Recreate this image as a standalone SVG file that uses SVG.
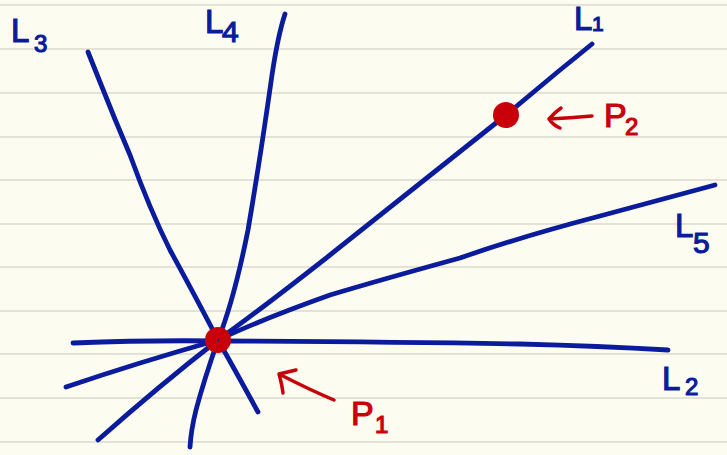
<svg xmlns="http://www.w3.org/2000/svg" width="727" height="455" viewBox="0 0 727 455">
<style>
.rule{stroke:#E4E2D6;stroke-width:2}
.ln{fill:none;stroke:#0A1C9C;stroke-width:4.8;stroke-linecap:round;stroke-linejoin:round}
.ar{fill:none;stroke:#C8000A;stroke-width:3.5;stroke-linecap:round;stroke-linejoin:round}
.lb{font-family:"Liberation Sans","DejaVu Sans",sans-serif;fill:#0A1C9C;stroke:#0A1C9C;stroke-width:1.2;font-size:33px}
.pl{font-family:"Liberation Sans","DejaVu Sans",sans-serif;fill:#C8000A;stroke:#C8000A;stroke-width:1.2;font-size:34px}
.sub{font-size:24px}
</style>
<rect width="727" height="455" fill="#FDFCF0"/>
<g id="rules">
<line class="rule" x1="0" y1="5" x2="727" y2="5"/>
<line class="rule" x1="0" y1="49" x2="727" y2="49"/>
<line class="rule" x1="0" y1="93" x2="727" y2="93"/>
<line class="rule" x1="0" y1="137" x2="727" y2="137"/>
<line class="rule" x1="0" y1="180" x2="727" y2="180"/>
<line class="rule" x1="0" y1="224" x2="727" y2="224"/>
<line class="rule" x1="0" y1="267" x2="727" y2="267"/>
<line class="rule" x1="0" y1="311" x2="727" y2="311"/>
<line class="rule" x1="0" y1="354" x2="727" y2="354"/>
<line class="rule" x1="0" y1="398" x2="727" y2="398"/>
<line class="rule" x1="0" y1="442" x2="727" y2="442"/>
</g>
<g id="connectors">
<path id="L1" class="ln" d="M592,44 Q575,58 560,70 Q530,95 506,115 Q430,175 330,255 Q260,310 218,340 Q160,385 98,440"/>
<path id="L2" class="ln" d="M73,343 Q150,340 218,341 Q400,342 520,344 Q600,346 668,350"/>
<path id="L3" class="ln" d="M88,52 Q92,62 100,82 Q115,120 130,155 Q150,210 170,250 Q200,305 218,340 Q235,370 258,412"/>
<path id="L4" class="ln" d="M285,14 Q278,35 272,75 Q260,160 248,230 Q234,300 218,340 Q204,380 196,410 Q191,430 190,447"/>
<path id="L5" class="ln" d="M715,185 Q660,200 600,216 Q520,237 460,258 Q380,280 330,295 Q260,320 218,340 Q140,362 66,387"/>
</g>
<g id="P1">
<circle cx="218" cy="340" r="13" fill="#C8000A"/>
<circle cx="218" cy="340" r="1.2" fill="#0A1C9C"/>
<path class="ar" d="M334,400 Q310,390 279,374 M279,374 L296,370 M279,374 Q282,385 283,393"/>
<text class="pl" x="351" y="425">P<tspan class="sub" x="375" y="433">1</tspan></text>
</g>
<g id="P2">
<circle cx="506" cy="115" r="13" fill="#C8000A"/>
<path class="ar" d="M592,116 Q570,118 549,119 M549,119 Q555,112 561,108 M549,119 Q553,125 560,128"/>
<text class="pl" x="604" y="127">P<tspan class="sub" x="625" y="135">2</tspan></text>
</g>
<g id="labels">
<text class="lb" x="11" y="42">L<tspan class="sub" x="34" y="52">3</tspan></text>
<text class="lb" x="205" y="33">L<tspan font-size="30" x="222" y="42">4</tspan></text>
<text class="lb" x="574" y="30" font-size="26">L<tspan font-size="21" x="592" y="31">1</tspan></text>
<text class="lb" x="675" y="237">L<tspan font-size="30" x="693" y="253">5</tspan></text>
<text class="lb" x="662" y="390">L<tspan class="sub" x="685" y="395">2</tspan></text>
</g>
</svg>
